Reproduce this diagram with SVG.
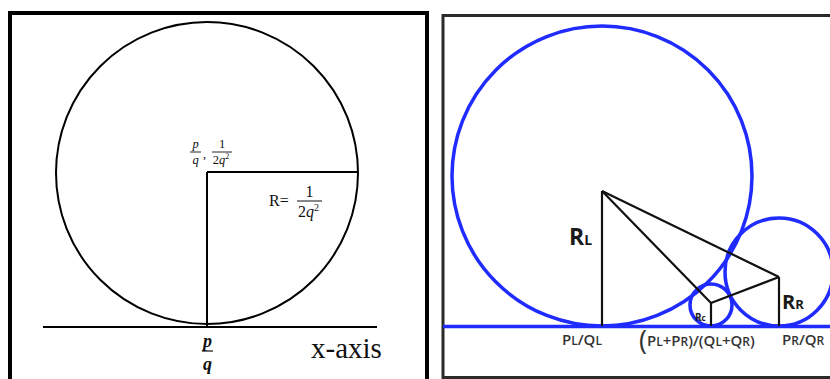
<svg xmlns="http://www.w3.org/2000/svg" width="830" height="379" viewBox="0 0 830 379">
<style>
.frameL{fill:none;stroke:#000;stroke-width:4}
.frameR{fill:none;stroke:#2a2a2a;stroke-width:3}
.thin{fill:none;stroke:#000;stroke-width:2}
.blk{fill:none;stroke:#111;stroke-width:2.2}
.blue{fill:none;stroke:#1f2bff;stroke-width:3.5}
.serif{font-family:"Liberation Serif","DejaVu Serif",serif;fill:#111}
.it{font-style:italic}
.sans{font-family:"Open Sans","Lato","DejaVu Sans",sans-serif;fill:#1a1a1a;font-weight:700}
.lab{font-family:"Open Sans","Lato","DejaVu Sans",sans-serif;fill:#333;font-weight:600}
</style>
<rect width="830" height="379" fill="#fff"/>

<g id="left-panel">
  <rect class="frameL" x="10" y="13" width="417" height="380"/>
  <g id="ford-circle">
    <circle class="thin" cx="207" cy="173" r="151"/>
    <line class="thin" x1="207" y1="172" x2="357" y2="172"/>
    <line class="thin" x1="207" y1="172" x2="207" y2="327"/>
  </g>
  <line id="x-axis-line" class="thin" x1="43" y1="327" x2="377" y2="327"/>
  <g id="center-label" class="serif" font-size="12.5">
    <text class="it" x="195.5" y="148" text-anchor="middle">p</text>
    <line x1="190" y1="152" x2="201" y2="152" stroke="#111" stroke-width="0.9"/>
    <text class="it" x="195.5" y="163.5" text-anchor="middle">q</text>
    <text x="203" y="158">,</text>
    <text x="222" y="148" text-anchor="middle">1</text>
    <line x1="212" y1="152" x2="232" y2="152" stroke="#111" stroke-width="0.9"/>
    <text x="221" y="163.5" text-anchor="middle">2<tspan class="it">q</tspan><tspan font-size="8" dy="-5">2</tspan></text>
  </g>
  <g id="radius-label" class="serif" font-size="16">
    <text x="269" y="206">R=</text>
    <text x="309.5" y="197" text-anchor="middle">1</text>
    <line x1="297" y1="201" x2="322" y2="201" stroke="#111" stroke-width="1"/>
    <text x="308.5" y="217" text-anchor="middle">2<tspan class="it">q</tspan><tspan font-size="10" dy="-6">2</tspan></text>
  </g>
  <g id="pq-label" class="serif" font-size="18" font-weight="bold">
    <text class="it" x="207.5" y="347" text-anchor="middle">p</text>
    <line x1="202" y1="351" x2="213" y2="351" stroke="#111" stroke-width="1.2"/>
    <text class="it" x="207.5" y="370" text-anchor="middle">q</text>
  </g>
  <text id="x-axis-label" class="serif" x="311" y="358" font-size="29">x-axis</text>
</g>

<g id="right-panel">
  <rect class="frameR" x="443" y="15.5" width="400" height="362"/>
  <g id="circles">
    <circle id="circle-L" class="blue" cx="602" cy="176" r="150"/>
    <circle id="circle-R" class="blue" cx="779" cy="272" r="54"/>
    <circle id="circle-C" class="blue" cx="711" cy="305" r="21"/>
  </g>
  <line id="blue-axis" class="blue" x1="443" y1="326.5" x2="830" y2="326.5"/>
  <g id="connectors">
    <line class="blk" x1="602" y1="191" x2="602" y2="326"/>
    <line class="blk" x1="602" y1="191" x2="779" y2="277"/>
    <line class="blk" x1="602" y1="191" x2="711" y2="303"/>
    <line class="blk" x1="711" y1="303" x2="779" y2="277"/>
    <line class="blk" x1="779" y1="277" x2="779" y2="326"/>
    <line class="blk" x1="711" y1="303" x2="711" y2="326"/>
  </g>
  <text id="RL" class="sans" x="569" y="245" font-size="23">R<tspan font-size="14">L</tspan></text>
  <text id="RR" class="sans" x="782" y="309" font-size="20">R<tspan font-size="13">R</tspan></text>
  <text id="Rc" class="sans" x="695" y="321" font-size="10">R<tspan font-size="8">c</tspan></text>
  <text id="PLQL" class="lab" x="562" y="345" font-size="15">P<tspan font-size="12">L</tspan>/Q<tspan font-size="12">L</tspan></text>
  <text id="mediant" class="lab" x="639" y="350" font-size="15"><tspan font-size="27" font-weight="400">(</tspan><tspan dy="-4">P</tspan><tspan font-size="12">L</tspan>+P<tspan font-size="12">R</tspan>)/(Q<tspan font-size="12">L</tspan>+Q<tspan font-size="12">R</tspan>)</text>
  <text id="PRQR" class="lab" x="782" y="345" font-size="15">P<tspan font-size="12">R</tspan>/Q<tspan font-size="12">R</tspan></text>
</g>
</svg>
